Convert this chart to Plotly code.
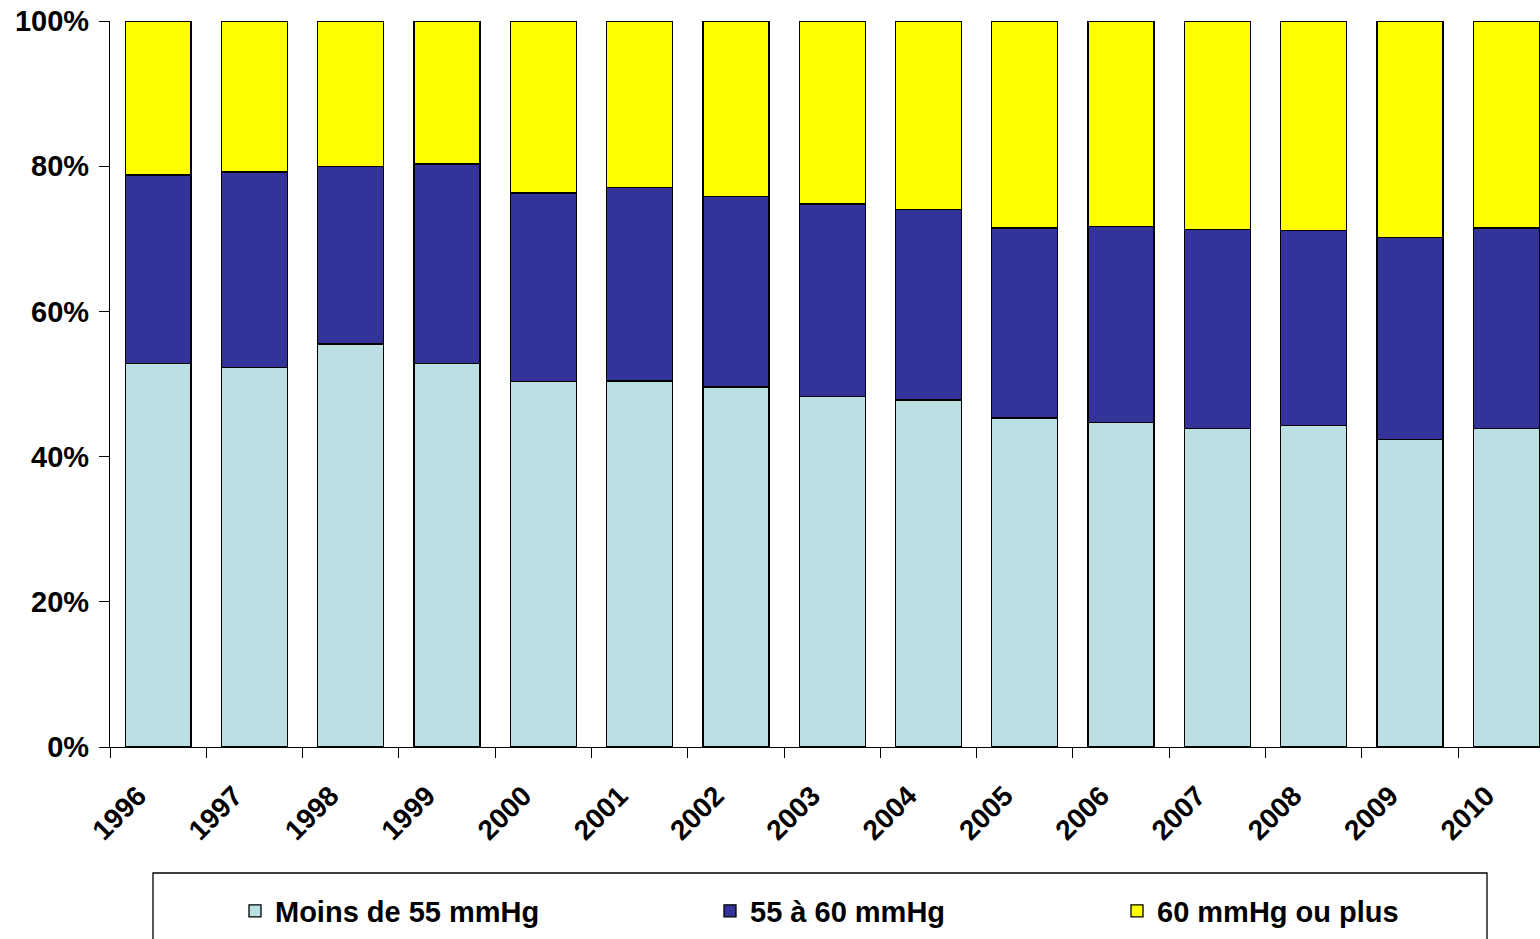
import plotly.graph_objects as go

years = ["1996", "1997", "1998", "1999", "2000", "2001", "2002", "2003",
         "2004", "2005", "2006", "2007", "2008", "2009", "2010"]
moins_55 = [52.8, 52.3, 55.5, 52.8, 50.3, 50.4, 49.6, 48.3, 47.8, 45.3, 44.7, 43.9, 44.3, 42.4, 43.9]
de_55_a_60 = [26.0, 26.9, 24.5, 27.5, 26.0, 26.7, 26.2, 26.5, 26.2, 26.2, 27.0, 27.4, 26.8, 27.8, 27.6]
plus_60 = [21.2, 20.8, 20.0, 19.7, 23.7, 22.9, 24.2, 25.2, 26.0, 28.5, 28.3, 28.7, 28.9, 29.8, 28.5]

series_names = ["Moins de 55 mmHg", "55 à 60 mmHg", "60 mmHg ou plus"]
colors = ["#BBE0E3", "#333399", "#FFFF00"]
ytick_vals = [0, 20, 40, 60, 80, 100]
ytick_text = ["0%", "20%", "40%", "60%", "80%", "100%"]

FONT = "Arial, 'Liberation Sans', sans-serif"

fig = go.Figure()
for i, (name, vals, col) in enumerate(zip(series_names, [moins_55, de_55_a_60, plus_60], colors)):
    fig.add_trace(go.Bar(
        x=years, y=vals, name=name,
        marker=dict(color=col, line=dict(color="#000000", width=1.3)),
        legend="legend" if i == 0 else f"legend{i+1}",
        showlegend=True,
    ))

# the page body margin is removed by the post script, so page coords == figure coords
W, H = 1540, 939
L, T, R = 110, 21, 0
B = H - 747
pw = W - L - R
ph = H - T - B

def px_x(p):
    return (p - L) / pw

def px_y(p):
    return (H - B - p) / ph

leg_common = dict(
    orientation="h", xanchor="left", yanchor="middle",
    font=dict(family=FONT, size=29, color="#000000", weight="bold"),
    bgcolor="rgba(0,0,0,0)", borderwidth=0,
)
legend_left = [235, 710, 1117]

fig.update_layout(
    width=W, height=H,
    margin=dict(l=L, r=R, t=T, b=B, pad=0, autoexpand=False),
    paper_bgcolor="#FFFFFF", plot_bgcolor="#FFFFFF",
    barmode="stack", bargap=0.315,
    showlegend=True,
    font=dict(family=FONT, size=29, color="#000000", weight="bold"),
    legend=dict(x=px_x(legend_left[0]), y=px_y(911), **leg_common),
    legend2=dict(x=px_x(legend_left[1]), y=px_y(911), **leg_common),
    legend3=dict(x=px_x(legend_left[2]), y=px_y(911), **leg_common),
    xaxis=dict(
        type="category",
        categoryorder="array", categoryarray=years,
        range=[-0.5, 14.35],
        tickson="boundaries",
        ticks="outside", ticklen=10, tickwidth=1.3, tickcolor="#000000",
        showline=True, linecolor="#000000", linewidth=1.3,
        showgrid=False, zeroline=False,
        automargin=False,
        tickangle=-45,
        ticklabelstandoff=20,
        ticklabelshift=-20,
        tickfont=dict(family=FONT, size=28, color="#000000", weight="bold"),
    ),
    yaxis=dict(
        range=[0, 100],
        tickmode="array", tickvals=ytick_vals, ticktext=ytick_text,
        ticks="outside", ticklen=10, tickwidth=1.3, tickcolor="#000000",
        showline=True, linecolor="#000000", linewidth=1.3,
        showgrid=False, zeroline=False,
        automargin=False,
        ticklabelstandoff=4,
        ticklabeloverflow="allow",
        tickfont=dict(family=FONT, size=29, color="#000000", weight="bold"),
    ),
    shapes=[dict(
        type="rect", xref="paper", yref="paper",
        x0=px_x(153), x1=px_x(1487), y0=px_y(873), y1=px_y(960),
        line=dict(color="#000000", width=1.3), fillcolor="rgba(0,0,0,0)",
        layer="below",
    )],
)

fig.write_html(
    "out.html",
    config={"displayModeBar": False},
    post_script="document.body.style.margin='0';document.body.style.overflow='hidden';",
)
